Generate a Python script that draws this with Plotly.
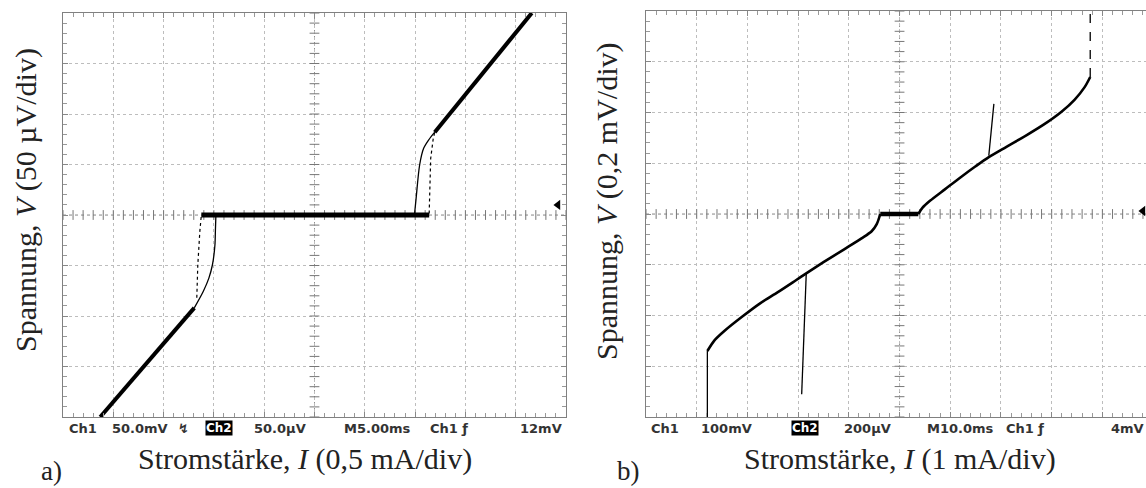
import numpy as np
import plotly.graph_objects as go

W, H = 1146, 488

# panel a) values in oscilloscope divisions (x: 0.5 mA/div, y: 50 uV/div)
a_lower_x = [-4.26, -3.3, -2.39]
a_lower_y = [-4.0, -2.88, -1.84]
a_lower_knee_x = [-2.39, -2.21, -2.10, -2.03, -1.98, -1.97, -1.96]
a_lower_knee_y = [-1.84, -1.51, -1.25, -0.99, -0.60, -0.30, 0.0]
a_lower_jump_x = [-2.34, -2.32, -2.28, -2.25]
a_lower_jump_y = [-1.64, -0.99, -0.33, 0.0]
a_flat_x = [-2.25, 2.28]
a_flat_y = [0.0, 0.0]
a_upper_jump_x = [1.99, 2.02, 2.09, 2.17, 2.28, 2.39]
a_upper_jump_y = [0.03, 0.33, 0.99, 1.32, 1.50, 1.64]
a_upper_knee_x = [2.28, 2.29, 2.31, 2.36, 2.39]
a_upper_knee_y = [0.03, 0.50, 1.12, 1.51, 1.64]
a_upper_x = [2.39, 3.3, 4.32]
a_upper_y = [1.64, 2.76, 4.0]
a_trigger = (4.84, 0.2)

# panel b) values in divisions (x: 1 mA/div, y: 0.2 mV/div)
b_lower_x = [-3.79, -3.65, -3.45, -3.10, -2.75, -2.40, -2.05, -1.84, -1.50, -1.10,
             -0.75, -0.55, -0.45, -0.38]
b_lower_y = [-2.70, -2.49, -2.30, -2.02, -1.76, -1.54, -1.31, -1.17, -0.95, -0.70,
             -0.48, -0.34, -0.20, 0.0]
b_upper_x = [0.37, 0.45, 0.60, 0.90, 1.20, 1.50, 1.76, 2.10, 2.50, 2.90, 3.20,
             3.45, 3.65, 3.76]
b_upper_y = [0.0, 0.12, 0.26, 0.49, 0.72, 0.94, 1.12, 1.32, 1.55, 1.80, 2.02,
             2.25, 2.50, 2.70]
b_flat_x = [-0.38, 0.37]
b_flat_y = [0.0, 0.0]
b_left_drop_x = [-3.79, -3.79]
b_left_drop_y = [-2.70, -4.0]
b_right_rise_x = [3.76, 3.76]
b_right_rise_y = [2.70, 4.0]
b_spike_up_x = [1.76, 1.86]
b_spike_up_y = [1.15, 2.17]
b_spike_down_x = [-1.84, -1.93]
b_spike_down_y = [-1.18, -3.55]
b_trigger = (4.80, 0.06)

# readout strips under the screens: (text, left px)
a_strip = [("Ch1", 67), ("50.0mV", 110), ("↯", 176), ("50.0µV", 252),
           ("M5.00ms", 342), ("Ch1 ƒ", 428), ("12mV", 518)]
b_strip = [("Ch1", 649), ("100mV", 699), ("200µV", 842),
           ("M10.0ms", 925), ("Ch1 ƒ", 1004)]


def px(x):
    return x / W


def py(y):
    return 1 - y / H


fig = go.Figure()


def line(x, y, xa, ya, width, dash="solid", shape="linear"):
    fig.add_trace(go.Scatter(x=x, y=y, mode="lines", xaxis=xa, yaxis=ya,
                             line=dict(color="black", width=width, dash=dash,
                                       shape=shape, smoothing=0.8),
                             showlegend=False, hoverinfo="skip"))


def center_ticks(xa, ya, xmax):
    tx = [round(v, 2) for v in np.arange(-5, xmax + 0.001, 0.2) if abs(v) > 0.01]
    ty = [round(v, 2) for v in np.arange(-4, 4.001, 0.2) if abs(v) > 0.01]
    fig.add_trace(go.Scatter(x=tx, y=[0] * len(tx), mode="markers", xaxis=xa, yaxis=ya,
                             marker=dict(symbol="line-ns", size=7,
                                         line=dict(color="#777", width=1)),
                             showlegend=False, hoverinfo="skip"))
    fig.add_trace(go.Scatter(x=[0] * len(ty), y=ty, mode="markers", xaxis=xa, yaxis=ya,
                             marker=dict(symbol="line-ew", size=7,
                                         line=dict(color="#777", width=1)),
                             showlegend=False, hoverinfo="skip"))


# panel a
center_ticks("x", "y", 5)
line(a_lower_jump_x, a_lower_jump_y, "x", "y", 1.2, "dot")
line(a_upper_knee_x, a_upper_knee_y, "x", "y", 1.2, "dot")
line(a_lower_knee_x, a_lower_knee_y, "x", "y", 1.3, shape="spline")
line(a_upper_jump_x, a_upper_jump_y, "x", "y", 1.3, shape="spline")
line(a_lower_x, a_lower_y, "x", "y", 4)
line(a_upper_x, a_upper_y, "x", "y", 4)
line(a_flat_x, a_flat_y, "x", "y", 5)
fig.add_trace(go.Scatter(x=[a_trigger[0]], y=[a_trigger[1]], mode="markers",
                         xaxis="x", yaxis="y", showlegend=False, hoverinfo="skip",
                         marker=dict(symbol="triangle-left", size=9, color="black")))

# panel b
center_ticks("x2", "y2", 4.86)
line(b_left_drop_x, b_left_drop_y, "x2", "y2", 1.3)
line(b_right_rise_x, b_right_rise_y, "x2", "y2", 1.3, "dash")
line(b_spike_up_x, b_spike_up_y, "x2", "y2", 1.3)
line(b_spike_down_x, b_spike_down_y, "x2", "y2", 1.3)
line(b_lower_x, b_lower_y, "x2", "y2", 2.6, shape="spline")
line(b_upper_x, b_upper_y, "x2", "y2", 2.6, shape="spline")
line(b_flat_x, b_flat_y, "x2", "y2", 4.5)
fig.add_trace(go.Scatter(x=[b_trigger[0]], y=[b_trigger[1]], mode="markers",
                         xaxis="x2", yaxis="y2", showlegend=False, hoverinfo="skip",
                         marker=dict(symbol="triangle-left", size=9, color="black")))

grid = dict(showgrid=True, gridcolor="#bdbdbd", griddash="dot", gridwidth=1,
            dtick=1, tick0=0, showticklabels=False, zeroline=False,
            showline=True, linecolor="#808080", linewidth=1.2,
            ticks="inside", ticklen=5, tickcolor="#888",
            minor=dict(dtick=0.2, ticks="inside", ticklen=4, tickcolor="#999",
                       showgrid=False))

fig.update_layout(
    width=W, height=H, margin=dict(l=0, r=0, t=0, b=0),
    paper_bgcolor="white", plot_bgcolor="white",
    xaxis=dict(grid, domain=[px(63), px(566)], range=[-5, 5], mirror="allticks",
               anchor="y"),
    yaxis=dict(grid, domain=[py(417), py(13)], range=[-4, 4], mirror="allticks",
               anchor="x"),
    xaxis2=dict(grid, domain=[px(646), 1.0], range=[-5, 4.86], mirror="allticks",
                anchor="y2"),
    yaxis2=dict(grid, domain=[py(417), py(11)], range=[-4, 4], mirror=False,
                anchor="x2"),
)

# center dotted cross lines
for xa, ya, xmax in (("x", "y", 5), ("x2", "y2", 4.86)):
    fig.add_shape(type="line", xref=xa, yref=ya, x0=-5, x1=xmax, y0=0, y1=0,
                  line=dict(color="#909090", width=1, dash="dot"), layer="below")
    fig.add_shape(type="line", xref=xa, yref=ya, x0=0, x1=0, y0=-4, y1=4,
                  line=dict(color="#909090", width=1, dash="dot"), layer="below")

strip_font = dict(family="DejaVu Sans", size=13, color="#333")
for strip in (a_strip, b_strip):
    for txt, x0 in strip:
        fig.add_annotation(text="<b>%s</b>" % txt, x=px(x0), y=py(428), xref="paper",
                           yref="paper", xanchor="left", yanchor="middle",
                           showarrow=False, font=strip_font)
fig.add_annotation(text="<b>4mV</b>", x=1.0, y=py(428), xref="paper", yref="paper",
                   xanchor="right", yanchor="middle", showarrow=False, font=strip_font)
for x0 in (205, 791):
    fig.add_annotation(text="<b>Ch2</b>", x=px(x0), y=py(428), xref="paper",
                       yref="paper", xanchor="left", yanchor="middle", showarrow=False,
                       font=dict(family="DejaVu Sans", size=12, color="white"),
                       bgcolor="black", borderpad=0)

serif = dict(family="Liberation Serif", size=30, color="#222")
titles = [
    ("Stromstärke, <i>I</i> (0,5 mA/div)", 305, 459, 0),
    ("Stromstärke, <i>I</i> (1 mA/div)", 900, 459, 0),
    ("Spannung, <i>V</i> (50 µV/div)", 26, 200, -90),
    ("Spannung, <i>V</i> (0,2 mV/div)", 607, 202, -90),
]
for txt, x0, y0, ang in titles:
    fig.add_annotation(text=txt, x=px(x0), y=py(y0), xref="paper", yref="paper",
                       xanchor="center", yanchor="middle", showarrow=False,
                       textangle=ang, font=serif)
for txt, x0 in (("a)", 51), ("b)", 628)):
    fig.add_annotation(text=txt, x=px(x0), y=0, xref="paper", yref="paper",
                       xanchor="center", yanchor="bottom", showarrow=False,
                       font=dict(family="Liberation Serif", size=27, color="#222"))

# the page body has a default 8px margin; remove it so the figure fills the window
fig.write_html("out.html", config={"displayModeBar": False},
               post_script="document.body.style.margin='0';")
